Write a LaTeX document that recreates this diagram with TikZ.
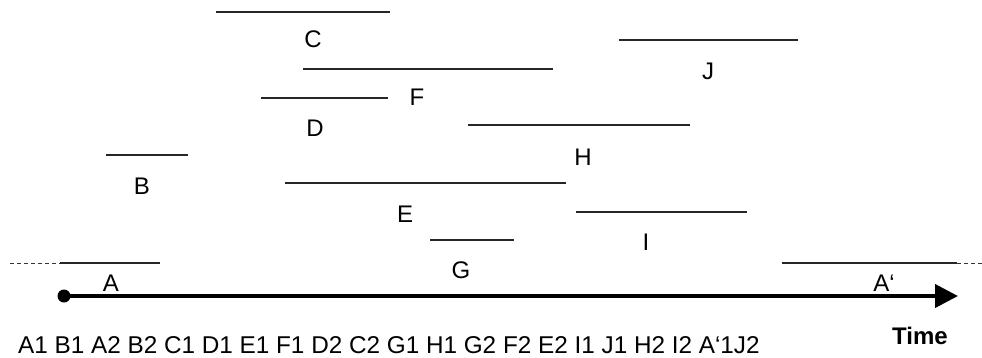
\documentclass[tikz,border=0pt]{standalone}
\usepackage{fontspec}
\setmainfont{Liberation Sans}
\usetikzlibrary{arrows.meta}
\begin{document}
\begin{tikzpicture}[x=1pt,y=-1pt,
  lbl/.style={inner sep=0pt,font=\fontsize{24}{28}\selectfont},
  span/.style={line width=1.2pt,draw=black!85},
  openend/.style={line width=1pt,draw=black!80,dash pattern=on 4pt off 3pt},
  timeaxis/.style={line width=4pt,-{Triangle[length=23pt,width=23pt]}}]
\useasboundingbox (0,0) rectangle (982,357);

% interval bars
\coordinate (c1) at (216,12);  \coordinate (c2) at (390,12);
\coordinate (f1) at (303,69);  \coordinate (f2) at (553,69);
\coordinate (d1) at (261,98);  \coordinate (d2) at (388,98);
\coordinate (j1) at (619,40);  \coordinate (j2) at (798,40);
\coordinate (h1) at (468,125); \coordinate (h2) at (690,125);
\coordinate (b1) at (106,155); \coordinate (b2) at (188,155);
\coordinate (e1) at (285,183); \coordinate (e2) at (566,183);
\coordinate (i1) at (576,212); \coordinate (i2) at (747,212);
\coordinate (g1) at (430,240); \coordinate (g2) at (514,240);
\coordinate (a0) at (10,263);  \coordinate (a1) at (60,263);  \coordinate (a2) at (160,263);
\coordinate (p1) at (782,263); \coordinate (p2) at (957,263); \coordinate (p3) at (982,263);

\foreach \s/\e in {c1/c2,f1/f2,d1/d2,j1/j2,h1/h2,b1/b2,e1/e2,i1/i2,g1/g2,a1/a2,p1/p2}
  \draw[span] (\s) -- (\e);
\draw[openend] (a0) -- (a1);
\draw[openend] (p2) -- (p3);

% interval names
\node[lbl] (lC) at (313,39)  {C};
\node[lbl] (lF) at (417,97)  {F};
\node[lbl] (lD) at (315,128) {D};
\node[lbl] (lJ) at (708,71)  {J};
\node[lbl] (lH) at (583,157) {H};
\node[lbl] (lB) at (142,186) {B};
\node[lbl] (lE) at (405,214) {E};
\node[lbl] (lI) at (646,242) {I};
\node[lbl] (lG) at (461,270) {G};
\node[lbl] (lA) at (111,283) {A};
\node[lbl] (lAp) at (884,283) {A‘};

% time axis
\coordinate (t0) at (64,296);
\coordinate (t1) at (958,296);
\draw[timeaxis] (t0) -- (t1);
\fill (t0) circle (6.5pt);

\node[lbl,font=\fontsize{24}{28}\selectfont\bfseries] (time) at (920,336) {Time};
\node[lbl,anchor=base west,font=\fontsize{24.3}{28}\selectfont] (order) at (18,353)
  {A1 B1 A2 B2 C1 D1 E1 F1 D2 C2 G1 H1 G2 F2 E2 I1 J1 H2 I2 A‘1J2};
\end{tikzpicture}
\end{document}
